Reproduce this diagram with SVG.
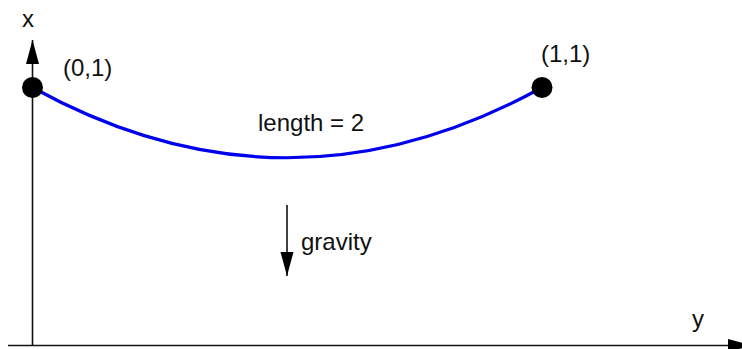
<svg xmlns="http://www.w3.org/2000/svg" width="742" height="349" viewBox="0 0 742 349">
<style>
text{font-family:"Liberation Sans",Arial,sans-serif;font-size:24px;fill:#111}
.ax{stroke:#111;stroke-width:1.6;fill:none}
.pt{fill:#000}
</style>
<defs>
<marker id="ah" markerUnits="userSpaceOnUse" markerWidth="26" markerHeight="14" refX="24" refY="6.5" orient="auto">
<path d="M0,0 L24,6.5 L0,13 Z" fill="#000"/>
</marker>
</defs>
<rect width="742" height="349" fill="#fff"/>
<g id="connectors">
<path id="x-axis" class="ax" d="M32.5,345 L32.5,40" marker-end="url(#ah)"/>
<path id="y-axis" class="ax" d="M8,345.5 L752,345.5" marker-end="url(#ah)"/>
<path id="gravity-arrow" class="ax" d="M287,205 L287,276" marker-end="url(#ah)"/>
<path id="chain" d="M32.5,87.5 Q287,228 542,87.5" fill="none" stroke="#0000ee" stroke-width="3.2"/>
</g>
<g id="p01">
<circle class="pt" cx="32.5" cy="87.5" r="10.5"/>
<text x="63" y="76">(0,1)</text>
</g>
<g id="p11">
<circle class="pt" cx="542" cy="87.5" r="10.5"/>
<text x="541" y="62">(1,1)</text>
</g>
<text x="22" y="27">x</text>
<text x="692" y="327">y</text>
<text x="258" y="131">length = 2</text>
<text x="301" y="250">gravity</text>
</svg>
